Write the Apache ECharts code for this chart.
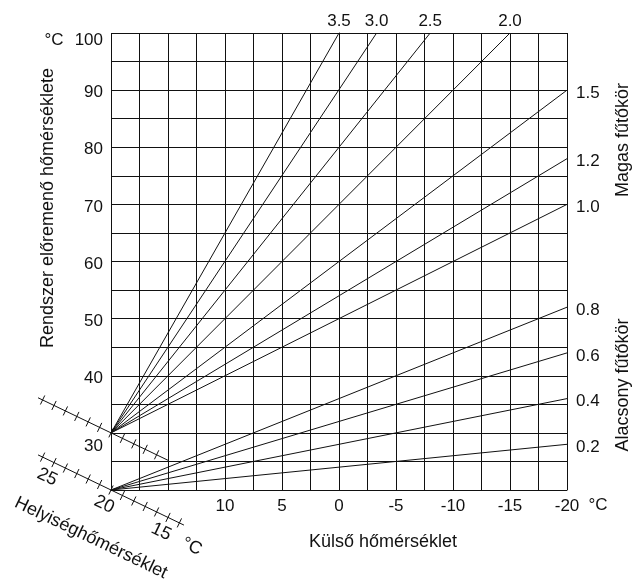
<!DOCTYPE html>
<html><head><meta charset="utf-8">
<script src="https://cdn.jsdelivr.net/npm/echarts@6/dist/echarts.min.js"></script>
<style>html,body{margin:0;padding:0;background:#fff}#c{width:643px;height:579px}</style>
</head><body><div id="c"></div>
<script>
// ---- data ----
const outsideTickLabels = [10, 5, 0, -5, -10, -15, -20];      // Külső hőmérséklet (°C)
const flowTickLabels = [30, 40, 50, 60, 70, 80, 90, 100];     // Rendszer előremenő hőmérséklete (°C)

// high-temperature heating curves (Magas fűtőkör), start at (20 °C, 30 °C)
const highNames = ['3.5', '3.0', '2.5', '2.0', '1.5', '1.2', '1.0'];
const highStart = [20, 30];
const highEndOutside = [0, -3.3, -8, -15, -20, -20, -20];
const highEndFlow = [100, 100, 100, 100, 90, 78, 70];

// low-temperature heating curves (Alacsony fűtőkör), start at (20 °C, 20 °C)
const lowNames = ['0.8', '0.6', '0.4', '0.2'];
const lowStart = [20, 20];
const lowEndOutside = [-20, -20, -20, -20];
const lowEndFlow = [52, 44, 36, 28];

// room temperature scales (Helyiséghőmérséklet)
const roomScaleBase = [30, 20];
const roomScaleFrom = [15, 13.6];
const roomScaleTo = [26.4, 26.4];
const roomTicksUpper = [16, 17, 18, 19, 20, 21, 22, 23, 24, 25, 26];
const roomTicksLower = [14, 15, 16, 17, 18, 19, 20, 21, 22, 23, 24, 25, 26];
const roomTickLabels = [25, 20, 15];
const roomUnitAt = 12.3;

// ---- chart ----
const FONT = "'Liberation Sans', Arial, sans-serif";
const INK = '#111';
const DIAG = 0.96;   // flow change per °C room temperature shift

function curveSeries(names, start, endX, endY) {
  return names.map((n, i) => {
    const top = endY[i] >= 100;
    return {
      type: 'line', name: n, silent: true, animation: false,
      symbol: 'circle', symbolSize: 0.01, showSymbol: true,
      lineStyle: { color: INK, width: 1 },
      itemStyle: { color: INK },
      data: [
        { value: start },
        { value: [endX[i], endY[i]],
          label: top
            ? { show: true, position: 'top', distance: 3, formatter: n, color: INK, fontSize: 17, fontFamily: FONT }
            : { show: true, position: 'right', distance: 9, offset: [0, 3], formatter: n, color: INK, fontSize: 17, fontFamily: FONT } }
      ]
    };
  });
}

const roomSeries = {
  type: 'custom', silent: true, animation: false, clip: false,
  data: roomScaleBase.map((b, i) => [b, roomScaleFrom[i], roomScaleTo[i], i]),
  renderItem(params, api) {
    const base = api.value(0), r0 = api.value(1), r1 = api.value(2), idx = api.value(3);
    const P = r => api.coord([r, base + (r - 20) * DIAG]);
    const a = P(r0), b = P(r1);
    const dx = b[0] - a[0], dy = b[1] - a[1], L = Math.hypot(dx, dy);
    const nx = -dy / L, ny = dx / L;         // perpendicular, pointing up-right
    const children = [{
      type: 'line', shape: { x1: a[0], y1: a[1], x2: b[0], y2: b[1] },
      style: { stroke: INK, lineWidth: 1 }
    }];
    const ticks = idx === 0 ? roomTicksUpper : roomTicksLower;
    ticks.forEach(r => {
      const c = P(r);
      children.push({
        type: 'line',
        shape: { x1: c[0] - nx * 5, y1: c[1] - ny * 5, x2: c[0] + nx * 5, y2: c[1] + ny * 5 },
        style: { stroke: INK, lineWidth: 1 }
      });
    });
    return { type: 'group', children };
  }
};

const chart = echarts.init(document.getElementById('c'), null, { renderer: 'canvas' });
chart.setOption({
  backgroundColor: '#fff',
  animation: false,
  textStyle: { fontFamily: FONT },
  grid: { left: 111, top: 33, width: 456, height: 457, containLabel: false },
  xAxis: {
    type: 'value', inverse: true, min: -20, max: 20, interval: 2.5,
    axisLine: { show: true, lineStyle: { color: INK, width: 1 } },
    axisTick: { show: false },
    splitLine: { show: true, lineStyle: { color: INK, width: 1 } },
    axisLabel: {
      margin: 8, color: INK, fontSize: 17, fontFamily: FONT,
      formatter: v => outsideTickLabels.includes(v) ? String(v) : ''
    }
  },
  yAxis: {
    type: 'value', min: 20, max: 100, interval: 5,
    axisLine: { show: true, lineStyle: { color: INK, width: 1 } },
    axisTick: { show: false },
    splitLine: { show: true, lineStyle: { color: INK, width: 1 } },
    axisLabel: {
      margin: 8, color: INK, fontSize: 17, fontFamily: FONT,
      formatter: v => {
        if (!flowTickLabels.includes(v)) return '';
        if (v === 100) return '{t|' + v + '}';
        if (v === 30) return '{b|' + v + '}';
        return '{n|' + v + '}';
      },
      rich: {
        n: { fontSize: 17, fontFamily: FONT, color: INK, padding: [5, 0, 0, 0] },
        t: { fontSize: 17, fontFamily: FONT, color: INK, padding: [14, 0, 0, 0] },
        b: { fontSize: 17, fontFamily: FONT, color: INK, padding: [26, 0, 0, 0] }
      }
    }
  },
  series: [
    ...curveSeries(highNames, highStart, highEndOutside, highEndFlow),
    ...curveSeries(lowNames, lowStart, lowEndOutside, lowEndFlow),
    roomSeries
  ]
});

// room-temperature scale labels, placed through the grid's own coordinate conversion
const base = roomScaleBase[1];
const px = r => chart.convertToPixel({ gridIndex: 0 }, [r, base + (r - 20) * DIAG]);
const A = px(roomScaleFrom[1]), B = px(roomScaleTo[1]);
const ddx = A[0] - B[0], ddy = A[1] - B[1], LL = Math.hypot(ddx, ddy);
const ux = ddx / LL, uy = ddy / LL;           // along the scale, towards lower right
const ang = Math.atan2(uy, ux);               // clockwise angle on screen
const offX = -uy * 16, offY = ux * 16;        // below the scale line
const textEl = (txt, p, size) => ({
  type: 'text', x: p[0] + offX, y: p[1] + offY, rotation: -ang,
  style: { text: txt, font: size + 'px ' + FONT, fill: INK, align: 'center', verticalAlign: 'middle' }
});
const roomTexts = roomTickLabels.map(r => textEl(String(r), px(r), 18));
roomTexts.push(textEl('°C', px(roomUnitAt), 18));

chart.setOption({
  graphic: [
    { type: 'text', x: 54, y: 40, style: { text: '°C', font: '17px ' + FONT, fill: INK, align: 'center', verticalAlign: 'middle' } },
    { type: 'text', x: 598, y: 505, style: { text: '°C', font: '17px ' + FONT, fill: INK, align: 'center', verticalAlign: 'middle' } },
    { type: 'text', x: 383, y: 542, style: { text: 'Külső hőmérséklet', font: '18px ' + FONT, fill: INK, align: 'center', verticalAlign: 'middle' } },
    { type: 'text', x: 48.5, y: 208, rotation: Math.PI / 2, style: { text: 'Rendszer előremenő hőmérséklete', font: '18px ' + FONT, fill: INK, align: 'center', verticalAlign: 'middle' } },
    { type: 'text', x: 623, y: 140, rotation: Math.PI / 2, style: { text: 'Magas fűtőkör', font: '18px ' + FONT, fill: INK, align: 'center', verticalAlign: 'middle' } },
    { type: 'text', x: 623, y: 385, rotation: Math.PI / 2, style: { text: 'Alacsony fűtőkör', font: '18px ' + FONT, fill: INK, align: 'center', verticalAlign: 'middle' } },
    { type: 'text', x: 91, y: 538, rotation: -ang, style: { text: 'Helyiséghőmérséklet', font: '18px ' + FONT, fill: INK, align: 'center', verticalAlign: 'middle' } },
    ...roomTexts
  ]
});
</script>
</body></html>
